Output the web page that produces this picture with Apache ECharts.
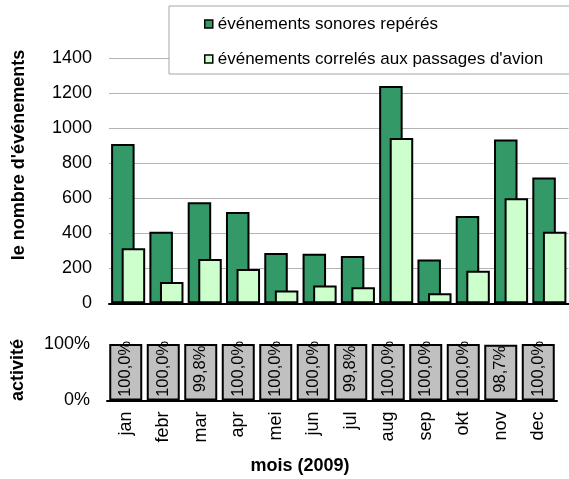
<!DOCTYPE html>
<html><head><meta charset="utf-8">
<script src="https://cdn.jsdelivr.net/npm/echarts@6/dist/echarts.min.js"></script>
<style>html,body{margin:0;padding:0;background:#fff}#c{width:569px;height:479px}</style>
</head><body><div id="c"></div>
<script>
const months = ['jan','febr','mar','apr','mei','jun','jul','aug','sep','okt','nov','dec'];
const soundEvents = [910, 409, 577, 522, 287, 283, 271, 1241, 251, 499, 936, 719];
const aircraftEvents = [314, 122, 253, 196, 73, 102, 92, 945, 58, 186, 600, 409];
const activity = [100.0, 100.0, 99.8, 100.0, 100.0, 100.0, 99.8, 100.0, 100.0, 100.0, 98.7, 100.0];
const seriesNames = ['événements sonores repérés', "événements correlés aux passages d'avion"];
const titles = {y1: "le nombre d'événements", y2: 'activité', x: 'mois (2009)'};

const FF = '"Liberation Sans", Arial, sans-serif';
const chart = echarts.init(document.getElementById('c'), null, {renderer: 'canvas'});
const axisLineStyle = {color: '#000', width: 2};
chart.setOption({
  animation: false,
  backgroundColor: '#fff',
  textStyle: {fontFamily: FF, color: '#000'},
  grid: [
    {left: 109, top: 58.3, width: 459.5, height: 245},
    {left: 107, top: 344, width: 450, height: 56.5}
  ],
  legend: {
    data: seriesNames,
    orient: 'vertical',
    left: 169, top: 6,
    padding: [8, 60, 5, 35],
    itemGap: 15,
    itemWidth: 8, itemHeight: 8,
    icon: 'rect',
    borderColor: '#a6a6a6', borderWidth: 1,
    backgroundColor: '#fff',
    itemStyle: {borderColor: '#000', borderWidth: 1.5},
    textStyle: {fontSize: 17, lineHeight: 20, color: '#000', fontFamily: FF}
  },
  xAxis: [
    {type: 'category', gridIndex: 0, data: months,
     axisLine: {lineStyle: axisLineStyle},
     axisTick: {length: 6, lineStyle: axisLineStyle},
     axisLabel: {show: false}},
    {type: 'category', gridIndex: 1, data: months,
     axisLine: {lineStyle: axisLineStyle},
     axisTick: {length: 6, lineStyle: axisLineStyle},
     axisLabel: {rotate: 90, fontSize: 18, margin: 11, interval: 0, color: '#000', fontFamily: FF}}
  ],
  yAxis: [
    {type: 'value', gridIndex: 0, min: 0, max: 1400, interval: 200,
     axisLine: {show: false}, axisTick: {show: false},
     splitLine: {lineStyle: {color: '#b3b3b3', width: 1}},
     axisLabel: {fontSize: 18, margin: 17, color: '#000', fontFamily: FF, formatter: v => String(v)}},
    {type: 'value', gridIndex: 1, min: 0, max: 100, interval: 100,
     axisLine: {show: false}, axisTick: {show: false},
     splitLine: {show: false},
     axisLabel: {fontSize: 18, margin: 17, color: '#000', fontFamily: FF, formatter: v => v + '%'}}
  ],
  series: [
    {name: seriesNames[0], type: 'bar', xAxisIndex: 0, yAxisIndex: 0, data: soundEvents,
     barCategoryGap: '11%', barGap: '-55%',
     itemStyle: {color: '#339966', borderColor: '#000', borderWidth: 2}},
    {name: seriesNames[1], type: 'bar', xAxisIndex: 0, yAxisIndex: 0, data: aircraftEvents,
     barCategoryGap: '11%', barGap: '-55%',
     itemStyle: {color: '#ccffcc', borderColor: '#000', borderWidth: 2}},
    {name: 'activité', type: 'bar', xAxisIndex: 1, yAxisIndex: 1, data: activity,
     barCategoryGap: '12%',
     itemStyle: {color: '#c0c0c0', borderColor: '#000', borderWidth: 2},
     label: {show: true, rotate: 90, position: ['50%', '44%'], align: 'center', verticalAlign: 'middle',
       fontSize: 16.5, color: '#000', fontFamily: FF,
       formatter: p => p.value.toFixed(1).replace('.', ',') + '%'}}
  ],
  graphic: [
    {type: 'text', x: 19, y: 155, rotation: Math.PI / 2,
     style: {text: titles.y1, font: 'bold 18px ' + FF, fill: '#000', align: 'center', verticalAlign: 'middle', textAlign: 'center', textVerticalAlign: 'middle'}},
    {type: 'text', x: 18, y: 370, rotation: Math.PI / 2,
     style: {text: titles.y2, font: 'bold 18px ' + FF, fill: '#000', align: 'center', verticalAlign: 'middle', textAlign: 'center', textVerticalAlign: 'middle'}},
    {type: 'text', x: 300, y: 466,
     style: {text: titles.x, font: 'bold 18px ' + FF, fill: '#000', align: 'center', verticalAlign: 'middle', textAlign: 'center', textVerticalAlign: 'middle'}}
  ]
});
</script></body></html>
